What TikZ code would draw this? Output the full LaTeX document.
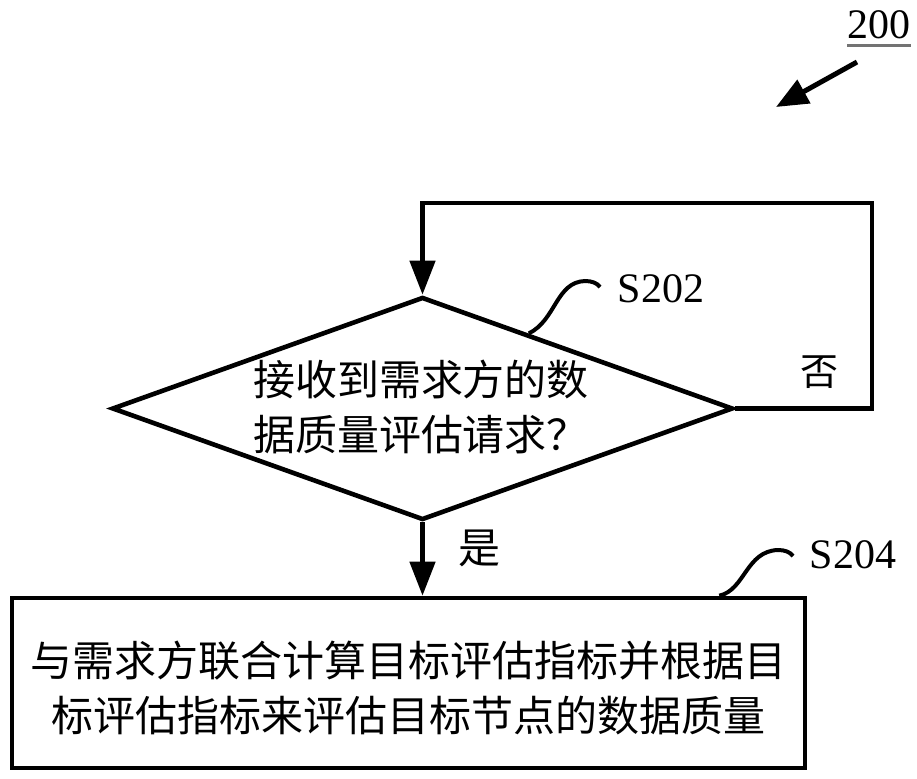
\documentclass[tikz,border=0pt]{standalone}
\usepackage{fontspec}
\setmainfont{Liberation Serif}
\newfontfamily\cjk{Noto Sans CJK SC}
\usepackage{tikz}
\usetikzlibrary{arrows.meta,shapes.geometric,calc,positioning}
\tikzset{
  rombo/.style={diamond,draw=black,line width=2.3pt,minimum width=310.5pt,minimum height=111.5pt,inner sep=0pt},
  caja/.style={draw=black,line width=2.3pt,minimum width=396.5pt,minimum height=85pt,inner sep=0pt},
  flecha/.style={line width=2.3pt,-{Triangle[length=17pt,width=12.5pt]}},
  gancho/.style={line width=2pt},
  txt/.style={font=\cjk\fontsize{21}{27.5}\selectfont,inner sep=0pt},
  etiq/.style={font=\fontsize{21}{24}\selectfont,inner sep=0pt}
}

\begin{document}
\begin{tikzpicture}[x=0.5pt,y=-0.5pt]
\useasboundingbox (0,0) rectangle (917,778);
% numero de figura
\node[etiq] (num) at (879,25) {200};
\draw[line width=1.3pt,black!55] ($(num.south west)+(0,6)$) -- ($(num.south east)+(0,6)$);
\coordinate (fa) at (857,62);
\coordinate (fb) at (776,107);
\draw[line width=2.5pt,-{Triangle[length=16pt,width=13pt]}] (fa) -- (fb);
% paso S202
\node[rombo] (s202) at (422.5,408.5) {};
\node[txt,align=left] (s202t) at (421,407) {接收到需求方的数\\据质量评估请求？};
\node[etiq] (l202) at (661,289) {S202};
\coordinate (c202) at ($(s202.north)!0.34!(s202.east)$);
\coordinate (f202) at (600,287);
\draw[gancho] (c202) .. controls (556,320) and (556,282) .. (585,281) .. controls (592,281) and (597,283) .. (f202);
% lazo "no"
\coordinate (lz1) at (872,408.5);
\coordinate (lz2) at (872,203);
\coordinate (lz3) at (422.5,203);
\draw[flecha] (s202.east) -- (lz1) -- (lz2) -- (lz3) -- (s202.north);
\node[txt,font=\cjk\fontsize{19}{22}\selectfont] (no) at (819,372) {否};
% paso S204
\node[caja] (s204) at (408.5,683) {};
\node[txt,align=center] (s204t) at (408.5,687.5) {与需求方联合计算目标评估指标并根据目\\标评估指标来评估目标节点的数据质量};
\draw[flecha] (s202.south) -- (s202.south |- s204.north);
\node[txt] (si) at (479,548) {是};
\node[etiq] (l204) at (853,555) {S204};
\coordinate (c204) at ($(s204.north east)+(-88,0)$);
\coordinate (f204) at (793,556);
\draw[gancho] (c204) .. controls (745,590) and (746,551) .. (778,550) .. controls (785,550) and (790,552) .. (f204);
\end{tikzpicture}
\end{document}
